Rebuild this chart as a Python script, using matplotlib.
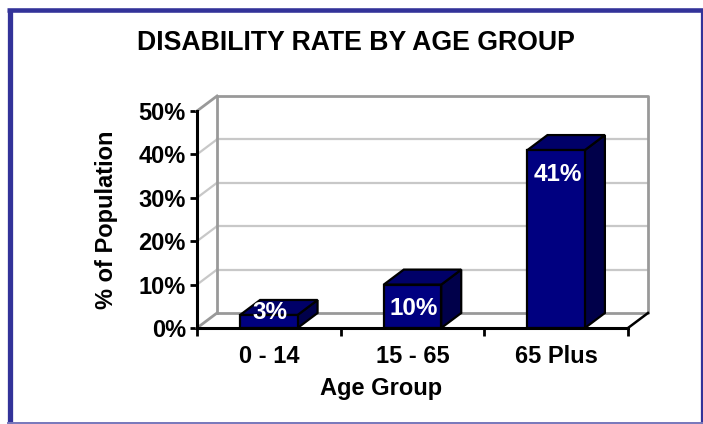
import matplotlib
matplotlib.use("Agg")
import matplotlib.pyplot as plt
from matplotlib.patches import Rectangle, Polygon
from matplotlib.lines import Line2D

plt.rcParams['font.family'] = ['Liberation Sans', 'DejaVu Sans']
plt.rcParams['font.weight'] = 'bold'

# Data
age_groups = ["0 - 14", "15 - 65", "65 Plus"]
disability_rate = [3, 10, 41]          # % of population
y_ticks = [0, 10, 20, 30, 40, 50]
y_tick_labels = ["0%", "10%", "20%", "30%", "40%", "50%"]

title = "DISABILITY RATE BY AGE GROUP"
x_label = "Age Group"
y_label = "% of Population"

W, H = 703, 424
fig = plt.figure(figsize=(W / 100, H / 100), dpi=100)
fig.patch.set_facecolor("white")

# front plane of the pseudo-3D chart
ax_l, ax_r, ax_t, ax_b = 197, 628, 111, 328
ax = fig.add_axes([ax_l / W, 1 - ax_b / H, (ax_r - ax_l) / W, (ax_b - ax_t) / H])
ax.set_xlim(-0.5, len(age_groups) - 0.5)
ax.set_ylim(0, 50)
ax.set_facecolor("none")

# depth offset (pixels) converted to data units
depth_px_x, depth_px_y = 20, 15
dx = depth_px_x / ((ax_r - ax_l) / len(age_groups))
dy = depth_px_y / ((ax_b - ax_t) / 50)

x0, x1 = -0.5, len(age_groups) - 0.5
wall = "#999999"
grid = "#c8c8c8"

# gridlines on back wall and side wall
for t in y_ticks[1:-1]:
    ax.plot([x0 + dx, x1 + dx], [t + dy, t + dy], color=grid, lw=1.6, clip_on=False, zorder=1)
    ax.plot([x0, x0 + dx], [t, t + dy], color=grid, lw=1.6, clip_on=False, zorder=1)

# wall outlines
ax.plot([x0 + dx, x1 + dx, x1 + dx, x0 + dx, x0 + dx],
        [dy, dy, 50 + dy, 50 + dy, dy], color=wall, lw=2, clip_on=False, zorder=2)
ax.plot([x0, x0 + dx], [50, 50 + dy], color=wall, lw=2, clip_on=False, zorder=2)
ax.plot([x0, x0 + dx], [0, dy], color=wall, lw=2, clip_on=False, zorder=2)
ax.plot([x1, x1 + dx], [0, dy], color="black", lw=1.8, clip_on=False, zorder=2)

# bars
bw = 0.4
front_c, top_c, side_c = "#000080", "#000068", "#00004a"
for i, v in enumerate(disability_rate):
    l, r = i - bw / 2, i + bw / 2
    side = Polygon([(r, 0), (r + dx, dy), (r + dx, v + dy), (r, v)], closed=True,
                   facecolor=side_c, edgecolor="black", lw=1.6, clip_on=False, zorder=4)
    top = Polygon([(l, v), (l + dx, v + dy), (r + dx, v + dy), (r, v)], closed=True,
                  facecolor=top_c, edgecolor="black", lw=1.6, clip_on=False, zorder=4)
    front = Rectangle((l, 0), bw, v, facecolor=front_c, edgecolor="black", lw=1.6,
                      clip_on=False, zorder=5)
    for p in (side, top, front):
        ax.add_patch(p)
    ax.text(i + 0.01, max(v - 5.6, 3.5), f"{v}%", color="white", fontsize=17.5,
            fontweight="bold", ha="center", va="center", zorder=6, clip_on=False)

# axes styling
for s in ("top", "right"):
    ax.spines[s].set_visible(False)
for s in ("left", "bottom"):
    ax.spines[s].set_color("black")
    ax.spines[s].set_linewidth(2.2)
    ax.spines[s].set_zorder(7)

ax.set_yticks(y_ticks)
ax.set_yticklabels(y_tick_labels, fontsize=17, fontweight="bold")
ax.tick_params(axis="y", length=5, width=2, pad=3, direction="out")

ax.set_xticks(range(len(age_groups)))
ax.set_xticklabels(age_groups, fontsize=17, fontweight="bold")
ax.tick_params(axis="x", which="major", length=0, pad=12)
ax.set_xticks([x0 + k for k in range(len(age_groups) + 1)], minor=True)
ax.tick_params(axis="x", which="minor", length=6, width=2, direction="out")

fig.text(381 / W, 1 - 388 / H, x_label, fontsize=17, fontweight="bold",
         ha="center", va="center")
fig.text(107 / W, 1 - 220 / H, y_label, fontsize=17, fontweight="bold",
         ha="center", va="center", rotation=90)
fig.text(356 / W, 1 - 43 / H, title, fontsize=19.2, fontweight="bold",
         ha="center", va="center")

# outer frame
frame_dark = "#333399"
fig.add_artist(Line2D([9.5 / W, 9.5 / W], [1 - 10 / H, 0], color=frame_dark, lw=3.8,
                      transform=fig.transFigure, solid_capstyle="butt"))
fig.add_artist(Line2D([7.5 / W, 1], [1 - 10.3 / H, 1 - 10.3 / H], color=frame_dark, lw=3.3,
                      transform=fig.transFigure, solid_capstyle="butt"))
fig.add_artist(Line2D([701.8 / W, 701.8 / W], [1 - 10 / H, 0], color=frame_dark, lw=1.6,
                      transform=fig.transFigure, solid_capstyle="butt"))
fig.add_artist(Line2D([7.5 / W, 1], [1 - 422.8 / H, 1 - 422.8 / H], color="#7777bb", lw=1.4,
                      transform=fig.transFigure, solid_capstyle="butt"))

fig.savefig("out.png", dpi=100, facecolor="white")
